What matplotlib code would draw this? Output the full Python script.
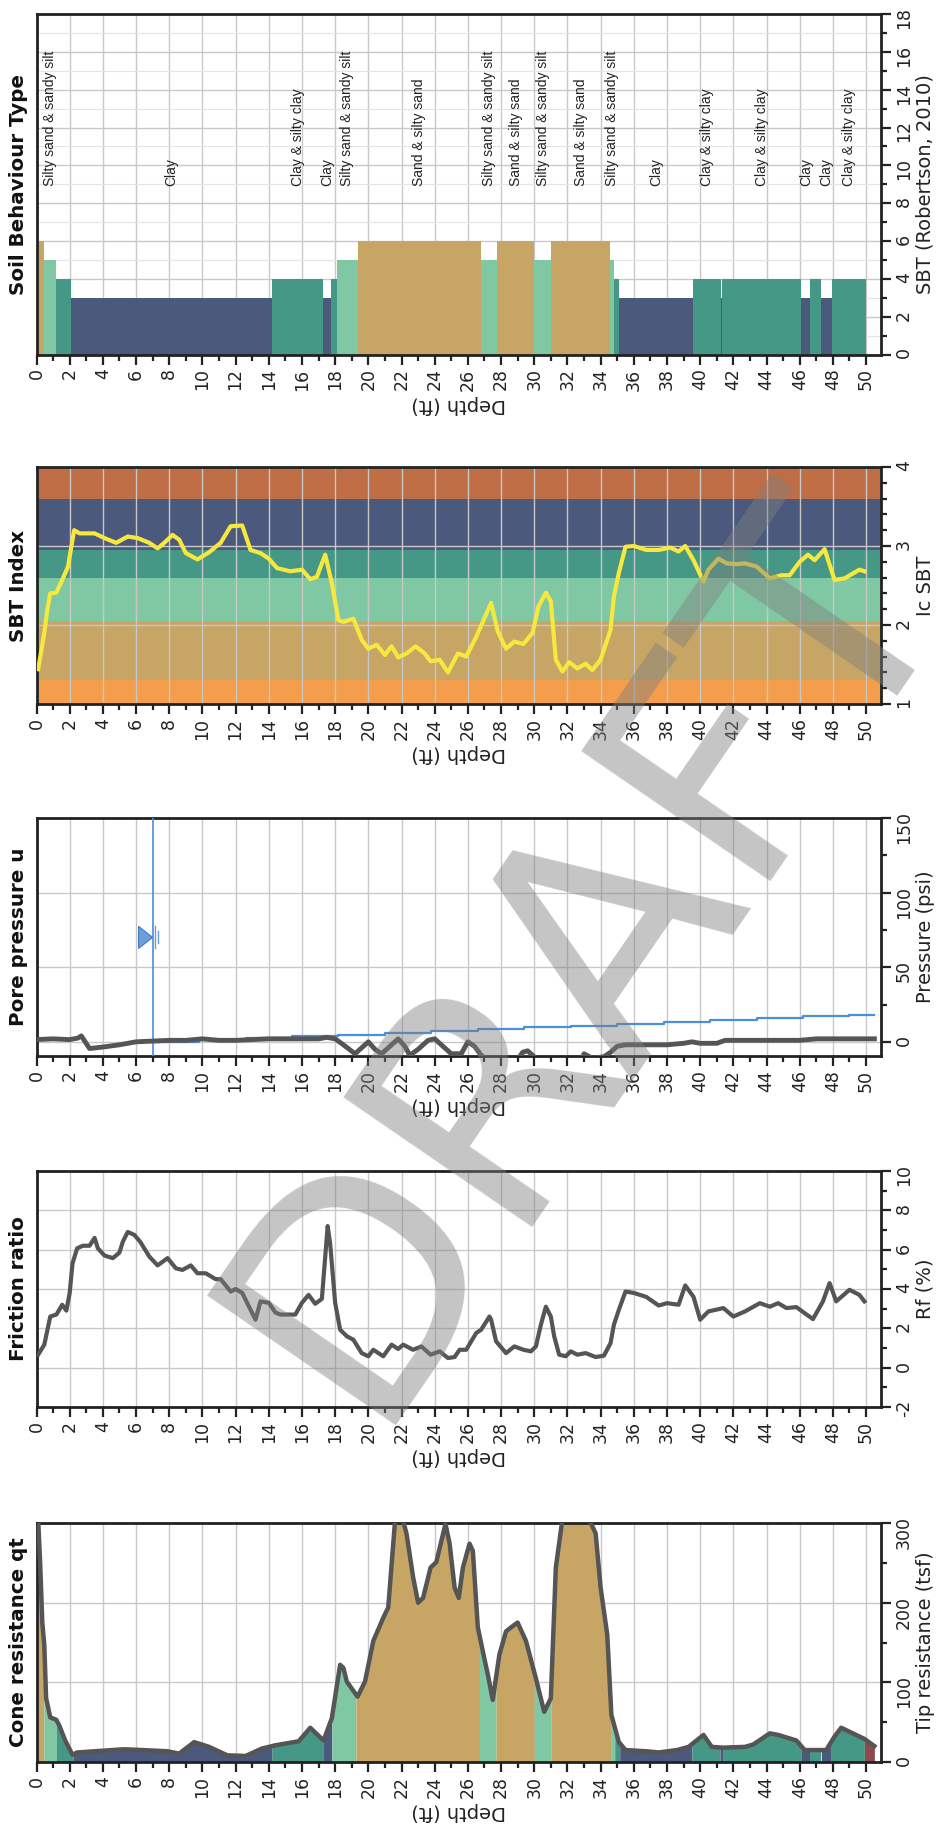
import numpy as np
import matplotlib
matplotlib.use("Agg")
import matplotlib.pyplot as plt
from matplotlib.ticker import MultipleLocator

plt.rcParams["axes.unicode_minus"] = False
plt.rcParams["font.family"] = ["DejaVu Sans"]

# ---------------------------------------------------------------- data
DEPTH_MAX = 50.9
WATER_DEPTH = 7.0

# cone resistance qt (tsf)
qt_depth = [0.0, 0.11, 0.22, 0.35, 0.47, 0.58, 0.83, 1.19, 1.37, 1.73, 2.17, 2.45, 3.5, 5.0,
            5.3, 6.4, 7.9, 8.6, 9.5, 10.4, 11.5, 12.6, 13.6, 14.4, 15.8, 16.5, 17.3, 17.8,
            18.3, 18.5, 18.7, 19.35, 19.8, 20.3, 20.9, 21.2, 21.6, 22.0, 22.3, 22.7, 23.0,
            23.3, 23.75, 24.1, 24.65, 24.9, 25.2, 25.45, 25.7, 26.1, 26.3, 26.6, 26.9, 27.2,
            27.5, 27.9, 28.3, 28.6, 29.0, 29.5, 30.1, 30.6, 31.0, 31.3, 31.7, 33.3, 33.7,
            34.0, 34.4, 34.65, 35.1, 35.5, 36.75, 37.5, 38.6, 39.3, 40.2, 40.7, 41.4, 42.7,
            43.2, 44.2, 44.7, 45.8, 46.3, 47.0, 47.6, 48.1, 48.5, 49.0, 49.9, 50.5]
qt_value = [340, 300, 250, 175, 147, 80, 56, 53, 46, 27, 9, 12, 13.5, 15.6,
            16, 15, 13.5, 10.5, 25, 19, 8.4, 7.6, 17, 21, 26, 43, 27, 55,
            122, 118, 101, 82, 101, 152, 181, 194, 300, 310, 287, 232, 200,
            206, 244, 251, 299, 274, 219, 206, 244, 274, 265, 169, 139, 110,
            78, 135, 164, 169, 175, 152, 105, 63, 80, 244, 305, 305, 287,
            219, 160, 59, 25, 15, 13.5, 12, 15, 19, 34, 19, 18, 19,
            22, 36, 34, 27, 15, 15, 15, 32, 43, 38, 29, 20]

# soil zone of each stretch of the qt profile
qt_zone_top = [0.0, 0.45, 1.2, 2.2, 14.2, 17.3, 17.8, 19.25, 26.7, 27.7, 30.0, 31.0, 34.6,
               34.85, 35.15, 39.5, 41.2, 41.35, 46.1, 46.6, 47.3, 47.9, 49.9]
qt_zone_bot = [0.45, 1.2, 2.2, 14.2, 17.3, 17.8, 19.25, 26.7, 27.7, 30.0, 31.0, 34.6, 34.85,
               35.15, 39.5, 41.2, 41.35, 46.1, 46.6, 47.3, 47.9, 49.9, 50.5]
qt_zone = [6, 5, 4, 3, 4, 3, 5, 6, 5, 6, 5, 6, 5, 4, 3, 4, 3, 4, 3, 4, 3, 4, 2]

# friction ratio Rf (%)
rf_depth = [0.1, 0.47, 0.83, 1.2, 1.55, 1.8, 2.0, 2.17, 2.45, 2.8, 3.2, 3.5, 3.7, 4.1, 4.6,
            5.0, 5.2, 5.5, 5.9, 6.25, 6.8, 7.3, 7.9, 8.4, 8.8, 9.3, 9.7, 10.2, 10.8, 11.1,
            11.7, 12.0, 12.4, 12.9, 13.2, 13.5, 14.0, 14.4, 14.7, 15.6, 16.0, 16.4, 16.8,
            17.2, 17.55, 17.7, 18.0, 18.3, 18.7, 19.1, 19.35, 19.6, 20.0, 20.3, 20.9, 21.4,
            21.8, 22.1, 22.7, 23.2, 23.75, 24.3, 24.8, 25.2, 25.5, 25.9, 26.5, 26.8, 27.3,
            27.4, 27.7, 28.3, 28.8, 29.35, 29.8, 30.1, 30.4, 30.7, 31.0, 31.2, 31.5, 31.9,
            32.2, 32.6, 33.1, 33.7, 34.2, 34.6, 34.8, 35.1, 35.5, 36.0, 36.75, 37.5, 38.0,
            38.7, 39.1, 39.6, 40.0, 40.5, 41.4, 42.0, 42.7, 43.6, 44.2, 44.7, 45.2, 45.8,
            46.3, 46.8, 47.4, 47.8, 48.2, 49.0, 49.6, 49.9]
rf_value = [0.66, 1.17, 2.6, 2.7, 3.2, 2.9, 3.8, 5.3, 6.07, 6.2, 6.2, 6.6, 6.07, 5.7, 5.57,
            5.85, 6.4, 6.9, 6.75, 6.4, 5.65, 5.2, 5.57, 5.05, 4.97, 5.2, 4.8, 4.8, 4.5, 4.5,
            3.87, 4.0, 3.8, 2.95, 2.44, 3.37, 3.3, 2.8, 2.7, 2.7, 3.3, 3.7, 3.25,
            3.5, 7.2, 6.3, 3.3, 1.93, 1.6, 1.42, 1.08, 0.74, 0.58, 0.91, 0.58, 1.17,
            0.95, 1.17, 0.91, 1.08, 0.66, 0.83, 0.49, 0.54, 0.91, 0.91, 1.76, 1.93, 2.6,
            2.44, 1.34, 0.74, 1.08, 0.91, 0.83, 1.08, 2.18, 3.1, 2.6, 1.6, 0.66, 0.58,
            0.83, 0.66, 0.74, 0.54, 0.61, 1.25, 2.18, 2.94, 3.87, 3.8, 3.6, 3.16, 3.28,
            3.2, 4.18, 3.6, 2.44, 2.86, 3.03, 2.6, 2.86, 3.28, 3.1, 3.28, 3.03, 3.08,
            2.77, 2.47, 3.37, 4.3, 3.37, 3.96, 3.7, 3.37]

# pore pressure u2 (psi)
u2_depth = [0.0, 1.0, 2.0, 2.5, 2.7, 3.2, 4.0, 5.0, 6.0, 7.0, 8.0, 9.0, 10.0, 11.0, 12.0,
            14.0, 17.0, 17.5, 18.0, 18.5, 19.2, 19.6, 20.0, 20.4, 20.8, 21.3, 21.8, 22.2,
            22.5, 23.0, 23.6, 24.0, 24.5, 25.0, 25.6, 26.0, 26.4, 26.8, 27.2, 28.0, 29.0,
            29.3, 29.6, 30.0, 30.5, 32.8, 33.0, 33.5, 34.2, 34.6, 35.0, 35.5, 38.0, 39.0,
            39.5, 40.0, 41.0, 41.5, 46.0, 47.0, 50.5]
u2_value = [1.5, 2.0, 1.5, 2.5, 4.0, -4.5, -3.5, -2.0, 0.0, 0.5, 1.0, 1.0, 2.0, 1.0, 1.0,
            2.0, 2.0, 3.0, 2.0, -2.0, -8.0, -4.0, 0.0, -5.0, -8.0, -3.0, 2.0, -3.0,
            -9.0, -5.0, 1.0, 2.0, -3.0, -8.0, -8.0, 0.0, -3.0, -9.0, -12.0, -14.0, -12.0,
            -7.0, -6.0, -10.0, -14.0, -14.0, -8.0, -11.0, -10.0, -7.0, -3.0, -2.0, -2.0, -1.0,
            0.0, -1.0, -1.0, 1.0, 1.0, 2.0, 2.0]

# hydrostatic pressure u0 (psi)
hydro_depth = [7.0, 9.8, 12.6, 15.4, 18.2, 21.0, 23.8, 26.6, 29.4, 32.2, 35.0, 37.8, 40.6,
               43.4, 46.2, 49.0, 50.5]
hydro_u = [0.0, 1.2, 2.4, 3.6, 4.8, 6.1, 7.3, 8.5, 9.7, 10.9, 12.1, 13.3, 14.5,
           15.7, 17.0, 18.2, 18.2]

# soil behaviour type index Ic
ic_depth = [0.1, 0.47, 0.65, 0.83, 1.2, 1.55, 1.9, 2.1, 2.27, 2.6, 3.5, 4.1, 4.8, 5.5, 6.1,
            6.8, 7.3, 7.7, 8.2, 8.6, 9.0, 9.7, 10.4, 11.1, 11.7, 12.4, 12.9, 13.5, 14.0,
            14.5, 15.3, 16.0, 16.5, 16.9, 17.4, 17.8, 18.2, 18.5, 19.1, 19.6, 20.0, 20.5,
            21.0, 21.4, 21.8, 22.3, 22.85, 23.4, 23.75, 24.3, 24.8, 25.4, 25.9, 26.5, 26.9,
            27.4, 27.8, 28.3, 28.8, 29.35, 29.9, 30.25, 30.7, 31.0, 31.3, 31.7, 32.1, 32.6,
            33.1, 33.5, 34.0, 34.6, 34.8, 35.1, 35.5, 36.0, 36.75, 37.5, 38.2, 38.7, 39.1,
            39.6, 40.2, 40.5, 41.1, 41.6, 42.2, 42.7, 43.4, 44.2, 44.9, 45.4, 46.0, 46.5,
            46.9, 47.5, 48.1, 48.7, 49.6, 49.9]
ic_value = [1.44, 1.9, 2.19, 2.4, 2.41, 2.57, 2.74, 2.99, 3.2, 3.16, 3.16, 3.1, 3.04, 3.12,
            3.1, 3.04, 2.97, 3.04, 3.14, 3.08, 2.91, 2.83, 2.92, 3.04, 3.25, 3.26, 2.95,
            2.91, 2.84, 2.72, 2.68, 2.7, 2.58, 2.61, 2.89, 2.53, 2.06, 2.04, 2.08, 1.81,
            1.7, 1.75, 1.62, 1.73, 1.59, 1.64, 1.73, 1.64, 1.54, 1.56, 1.4, 1.64, 1.6,
            1.85, 2.04, 2.28, 1.92, 1.7, 1.79, 1.76, 1.9, 2.23, 2.41, 2.3, 1.56, 1.41,
            1.53, 1.45, 1.51, 1.43, 1.56, 1.94, 2.36, 2.66, 2.99, 3.0, 2.95, 2.95, 2.98,
            2.93, 3.0, 2.82, 2.55, 2.7, 2.84, 2.78, 2.77, 2.78, 2.74, 2.59, 2.63, 2.63,
            2.8, 2.89, 2.82, 2.96, 2.57, 2.59, 2.7, 2.68]

# Ic boundaries of the Robertson zones, from zone 7 up to zone 2
ic_bounds = [1.0, 1.31, 2.05, 2.6, 2.95, 3.6, 4.0]
ic_band_zone = [7, 6, 5, 4, 3, 2]

# interpreted soil layers
layer_top = [0.0, 0.47, 1.16, 2.06, 14.22, 17.26, 17.73, 18.09, 19.35, 26.79, 27.76, 30.0,
             31.0, 34.58, 34.8, 35.1, 39.57, 41.23, 41.34, 46.1, 46.64, 47.29, 47.94]
layer_bottom = [0.47, 1.16, 2.06, 14.22, 17.26, 17.73, 18.09, 19.35, 26.79, 27.76, 30.0,
                31.0, 34.58, 34.8, 35.1, 39.57, 41.23, 41.34, 46.1, 46.64, 47.29, 47.94, 50.0]
layer_zone = [6, 5, 4, 3, 4, 3, 4, 5, 6, 5, 6, 5, 6, 5, 4, 3, 4, 3, 4, 3, 4, 3, 4]
layer_label = ["", "Silty sand & sandy silt", "", "Clay", "Clay & silty clay", "Clay", "",
               "Silty sand & sandy silt", "Sand & silty sand", "Silty sand & sandy silt",
               "Sand & silty sand", "Silty sand & sandy silt", "Sand & silty sand",
               "Silty sand & sandy silt", "", "Clay", "Clay & silty clay", "",
               "Clay & silty clay", "Clay", "", "Clay", "Clay & silty clay"]
LABEL_LEVEL = 8.9

ZONE_COLORS = {2: "#8C4A4E", 3: "#4B5A7C", 4: "#469886", 5: "#7FC8A3", 6: "#C6A565",
               7: "#F39C4A"}
IC_BAND_COLORS = {2: "#BE6D44", 3: "#4B5A7C", 4: "#469886", 5: "#7FC8A3", 6: "#C6A565",
                  7: "#F49D4B"}

# ---------------------------------------------------------------- layout
W, H = 938, 1839
fig = plt.figure(figsize=(W / 100, H / 100), dpi=100)
AX_L, AX_R = 36.5, 881.0

INK = "#222222"
LINE_GREY = "#555555"
GRID = "#c8c8c8"


def make_axes(top_px, bottom_px):
    return fig.add_axes([AX_L / W, 1 - bottom_px / H, (AX_R - AX_L) / W,
                         (bottom_px - top_px) / H])


def style(ax, title, ylabel, ylim, major, minor, top_px, bottom_px):
    ax.set_xlim(0, DEPTH_MAX)
    ax.set_ylim(*ylim)
    ax.xaxis.set_major_locator(MultipleLocator(2))
    ax.xaxis.set_minor_locator(MultipleLocator(1))
    ax.yaxis.set_major_locator(MultipleLocator(major))
    ax.yaxis.set_minor_locator(MultipleLocator(minor))
    ax.yaxis.tick_right()
    ax.yaxis.set_label_position("right")
    ax.tick_params(which="both", direction="out", width=1.6, color=INK,
                   labelsize=12.5, labelcolor="#222222")
    ax.tick_params(which="major", length=7)
    ax.tick_params(which="minor", length=4)
    ax.tick_params(axis="x", labelrotation=90, pad=3)
    ax.tick_params(axis="y", labelrotation=90, pad=3)
    ax.set_xlabel("Depth (ft)", rotation=180, fontsize=14, labelpad=3, color="#222222")
    ax.set_ylabel(ylabel, fontsize=14, labelpad=2, color="#222222")
    ax.grid(True, which="major", color=GRID, lw=1.0)
    ax.set_axisbelow(True)
    for sp in ax.spines.values():
        sp.set_color(INK)
        sp.set_linewidth(2)
    fig.text(28.5 / W, 1 - (top_px + bottom_px) / 2 / H, title, rotation=90,
             rotation_mode="anchor", ha="center", va="bottom", fontsize=14.3,
             fontweight="bold", color="#111111")


# ---------------------------------------------------------------- soil behaviour type
pos = (14, 354.5)
ax = make_axes(*pos)
ax.grid(True, which="minor", axis="y", color="#e4e4e4", lw=0.8)
ax.bar(layer_top, layer_zone, width=np.subtract(layer_bottom, layer_top), align="edge",
       color=[ZONE_COLORS[z] for z in layer_zone], zorder=2, linewidth=0)
for t, b, lab in zip(layer_top, layer_bottom, layer_label):
    if lab:
        ax.text((t + b) / 2, LABEL_LEVEL, lab, rotation=90, rotation_mode="anchor",
                ha="left", va="center", fontsize=10, family="Liberation Sans",
                color="#222222", zorder=3)
style(ax, "Soil Behaviour Type", "SBT (Robertson, 2010)", (0, 18), 2, 1, *pos)

# ---------------------------------------------------------------- SBT index
pos = (467, 704)
ax = make_axes(*pos)
for lo, hi, z in zip(ic_bounds[:-1], ic_bounds[1:], ic_band_zone):
    ax.axhspan(lo, hi, color=IC_BAND_COLORS[z], zorder=0.1, lw=0)
ax.plot(ic_depth, ic_value, color="#F7E840", lw=3, zorder=3)
style(ax, "SBT Index", "Ic SBT", (1, 4), 1, 0.2, *pos)

# ---------------------------------------------------------------- pore pressure
pos = (818, 1056)
ax = make_axes(*pos)
ax.plot(hydro_depth, hydro_u, color="#4A8FD8", lw=1.6, drawstyle="steps-post", zorder=3)
ax.plot(u2_depth, u2_value, color=LINE_GREY, lw=3.5, zorder=4)
ax.axvline(WATER_DEPTH, color="#4A8FD8", lw=1.2, zorder=3)
wt_level = 70
ax.fill([WATER_DEPTH - 0.85, WATER_DEPTH, WATER_DEPTH - 0.85],
        [wt_level + 7.4, wt_level, wt_level - 7.4], facecolor="#6B9FDB",
        edgecolor="#3C7AC2", lw=0.8, zorder=4)
ax.plot([WATER_DEPTH + 0.15] * 2, [wt_level - 7.4, wt_level + 7.4], color="#6B9FDB",
        lw=1.0, zorder=4)
ax.plot([WATER_DEPTH + 0.35] * 2, [wt_level - 4, wt_level + 4], color="#6B9FDB",
        lw=1.0, zorder=4)
style(ax, "Pore pressure u", "Pressure (psi)", (-9.5, 150), 50, 25, *pos)

# ---------------------------------------------------------------- friction ratio
pos = (1171, 1407)
ax = make_axes(*pos)
ax.plot(rf_depth, rf_value, color=LINE_GREY, lw=3, zorder=3)
style(ax, "Friction ratio", "Rf (%)", (-2, 10), 2, 1, *pos)

# ---------------------------------------------------------------- cone resistance
pos = (1523, 1762)
ax = make_axes(*pos)
qd = np.asarray(qt_depth, dtype=float)
qv = np.asarray(qt_value, dtype=float)
for t, b, z in zip(qt_zone_top, qt_zone_bot, qt_zone):
    inside = (qd > t) & (qd < b)
    xs = np.concatenate([[t], qd[inside], [b]])
    ys = np.concatenate([[np.interp(t, qd, qv)], qv[inside], [np.interp(b, qd, qv)]])
    ax.fill_between(xs, 0, ys, color=ZONE_COLORS[z], lw=0, zorder=1)
ax.plot(qd, qv, color=LINE_GREY, lw=3.2, zorder=3)
style(ax, "Cone resistance qt", "Tip resistance (tsf)", (0, 300), 100, 50, *pos)

# ---------------------------------------------------------------- watermark
fig.text(0.624, 0.482, "DRAFT", rotation=55.5, rotation_mode="anchor", ha="center",
         va="center", fontsize=226, color="#7f7f7f", alpha=0.45, zorder=10)

fig.savefig("out.png", dpi=100)
